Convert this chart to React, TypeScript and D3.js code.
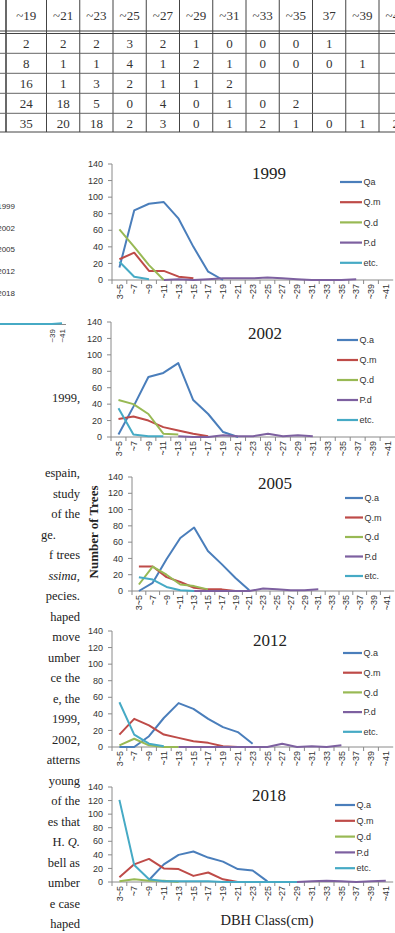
import React from "react";
import * as d3 from "d3";

// ---------- data ----------
const categories = ["3~5","~7","~9","~11","~13","~15","~17","~19","~21","~23","~25","~27","~29","~31","~33","~35","~37","~39","~41"];
const yTickValues = [0, 20, 40, 60, 80, 100, 120, 140];
const namesA = ["Qa", "Q.m", "Q.d", "P.d", "etc."];
const namesB = ["Q.a", "Q.m", "Q.d", "P.d", "etc."];
const seriesColors = ["#4A7EBB", "#BE4B48", "#98B954", "#7D60A0", "#46AAC5"];

const N = null;
const qa1999 = [15, 84, 92, 94, 74, 40, 10, 0];
const qm1999 = [25, 33, 11, 11, 4, 2];
const qd1999 = [61, 40, 18, 0];
const pd1999 = [N, N, N, 0, 1, 0, 1, 2, 2, 2, 3, 2, 1, 0, 0, 0, 1];
const etc1999 = [22, 4, 1];

const qa2002 = [3, 37, 73, 78, 90, 45, 28, 6, 0];
const qm2002 = [22, 25, 20, 12, 8, 4, 1];
const qd2002 = [45, 40, 28, 4, 3];
const pd2002 = [N, N, N, N, 1, 0, 0, 2, 1, 1, 4, 1, 2, 1];
const etc2002 = [35, 3, 1, 1];

const qa2005 = [0, 10, 39, 65, 78, 49, 33, 16, 1];
const qm2005 = [30, 30, 17, 11, 4, 2, 2, 0];
const qd2005 = [8, 30, 20, 8, 6, 2];
const pd2005 = [N, N, N, N, 0, 0, 0, 0, 0, 3, 2, 1, 1, 2];
const etc2005 = [17, 14, 5, 1, 0];

const qa2012 = [0, 0, 13, 35, 53, 46, 34, 24, 18, 4];
const qm2012 = [15, 34, 26, 15, 11, 7, 5, 1, 0];
const qd2012 = [2, 10, 2, 0, 0];
const pd2012 = [N, N, N, N, 0, 0, 0, 0, 0, 0, 0, 4, 0, 1, 0, 2];
const etc2012 = [54, 15, 4, 1];

const qa2018 = [N, N, 3, 26, 40, 45, 36, 30, 19, 17, 1];
const qm2018 = [7, 26, 34, 20, 19, 9, 14, 4, 0, 0, 0, 0];
const qd2018 = [1, 4, 2, 2, 0];
const pd2018 = [N, N, N, N, N, N, N, N, N, N, N, N, 0, 1, 2, 1, 0, 1, 2];
const etc2018 = [121, 25, 4, 1, 1, 1, 1, 0, 0, 0, 0, 0, 0];

// table
const tableHeader = ["~19","~21","~23","~25","~27","~29","~31","~33","~35","37","~39","~41"];
const row1999 = ["2","2","2","3","2","1","0","0","0","1","",""];
const row2002 = ["8","1","1","4","1","2","1","0","0","0","1",""];
const row2005 = ["16","1","3","2","1","1","2","","","","",""];
const row2012 = ["24","18","5","0","4","0","1","0","2","","",""];
const row2018 = ["35","20","18","2","3","0","1","2","1","0","1","2"];

// partial legend / text on the left
const leftLegend = ["1999", "2002", "2005", "2012", "2018"];
const leftTicks = ["~39", "~41"];
const leftEtc = [0, 0, 0, 0, 0, 0, 0, 1];
const bodyLines = [
  { t: "espain," },
  { t: "study" },
  { t: "of the" },
  { t: "ge.", short: true },
  { t: "f trees" },
  { t: "ssima,", it: true },
  { t: "pecies." },
  { t: "haped" },
  { t: "move" },
  { t: "umber" },
  { t: "ce the" },
  { t: "e, the" },
  { t: "1999," },
  { t: "2002," },
  { t: "atterns" },
  { t: "young" },
  { t: "of the" },
  { t: "es that" },
  { t: "H. Q.", hq: true },
  { t: "bell as" },
  { t: "umber" },
  { t: "e case" },
  { t: "haped" },
];

// ---------- layout ----------
const panels = [
  { year: "1999", series: [qa1999, qm1999, qd1999, pd1999, etc1999], names: namesA, axisX: 112, step: 14.8, y0: 280, yTop: 164, titleX: 269, titleY: 179, legX: 340, legLen: 22, legY: 182, legStep: 20.2 },
  { year: "2002", series: [qa2002, qm2002, qd2002, pd2002, etc2002], names: namesB, axisX: 111, step: 14.95, y0: 437, yTop: 322, titleX: 265, titleY: 339, legX: 337, legLen: 21, legY: 340, legStep: 20 },
  { year: "2005", series: [qa2005, qm2005, qd2005, pd2005, etc2005], names: namesB, axisX: 132, step: 13.8, y0: 591, yTop: 477, titleX: 275, titleY: 489, legX: 345, legLen: 18, legY: 498, legStep: 19.5 },
  { year: "2012", series: [qa2012, qm2012, qd2012, pd2012, etc2012], names: namesB, axisX: 112, step: 14.8, y0: 747, yTop: 631, titleX: 270, titleY: 646, legX: 343, legLen: 19, legY: 653, legStep: 19.7 },
  { year: "2018", series: [qa2018, qm2018, qd2018, pd2018, etc2018], names: namesB, axisX: 112, step: 14.8, y0: 882, yTop: 787, titleX: 269, titleY: 801, legX: 335, legLen: 20, legY: 805, legStep: 15.8 },
];

const SANS = "'Liberation Sans', Arial, sans-serif";
const SERIF = "'Liberation Serif', 'Times New Roman', serif";
const AXIS = "#8a8a8a";
const TEXT_RIGHT = 80;

function Panel({ p }: { p: any }) {
  const y = d3.scaleLinear().domain([0, 140]).range([p.y0, p.yTop]);
  const x = d3.scaleBand().domain(categories).range([p.axisX, p.axisX + p.step * categories.length]);
  const cx = (c: string) => (x(c) as number) + x.bandwidth() / 2;
  const line = d3
    .line<number | null>()
    .defined((d) => d != null)
    .x((_, i) => cx(categories[i]))
    .y((d) => y(d as number));
  const right = p.axisX + p.step * categories.length;
  return (
    <g>
      <line x1={p.axisX} x2={p.axisX} y1={p.yTop} y2={p.y0} stroke={AXIS} strokeWidth={1} />
      {yTickValues.map((t) => (
        <g key={t}>
          <line x1={p.axisX - 4} x2={p.axisX} y1={y(t)} y2={y(t)} stroke={AXIS} />
          <text x={p.axisX - 9} y={y(t)} dy="0.35em" textAnchor="end" fontFamily={SANS} fontSize={9} fill="#333">
            {t}
          </text>
        </g>
      ))}
      <line x1={p.axisX} x2={right} y1={p.y0} y2={p.y0} stroke={AXIS} />
      {categories.map((c) => (
        <g key={c}>
          <line x1={x(c) as number} x2={x(c) as number} y1={p.y0} y2={p.y0 + 4} stroke={AXIS} />
          <text
            transform={`translate(${cx(c)},${p.y0 + 4}) rotate(-90)`}
            textAnchor="end"
            dy="0.35em"
            fontFamily={SANS}
            fontSize={9}
            fill="#333"
          >
            {c}
          </text>
        </g>
      ))}
      {p.series.map((s: (number | null)[], k: number) => (
        <path key={k} d={line(s) || ""} fill="none" stroke={seriesColors[k]} strokeWidth={2} strokeLinejoin="round" />
      ))}
      <text x={p.titleX} y={p.titleY} textAnchor="middle" fontFamily={SERIF} fontSize={17} fill="#222">
        {p.year}
      </text>
      {p.names.map((n: string, k: number) => (
        <g key={n}>
          <line x1={p.legX} x2={p.legX + p.legLen} y1={p.legY + k * p.legStep} y2={p.legY + k * p.legStep} stroke={seriesColors[k]} strokeWidth={2.2} />
          <text x={p.legX + p.legLen + 1.5} y={p.legY + k * p.legStep} dy="0.35em" fontFamily={SANS} fontSize={9} fill="#333">
            {n}
          </text>
        </g>
      ))}
    </g>
  );
}

export default function App() {
  const colB = d3.range(0, 13).map((i) => (i === 0 ? 6 : 46.5 + (i - 1) * 33.25));
  const colCenter = (i: number) => (colB[i] + colB[i + 1]) / 2;
  const tableRows = [row1999, row2002, row2005, row2012, row2018];
  const rowCenters = tableRows.map((_, i) => 43.3 + i * 20);

  const lx = d3.scaleLinear().domain([0, leftEtc.length - 1]).range([-8, 62]);
  const ly = d3.scaleLinear().domain([0, 140]).range([324, 210]);
  const leftLine = d3.line<number>().x((_, i) => lx(i)).y((d) => ly(d));

  return (
    <div>
      <style>{`body{margin:0;background:#fff}`}</style>
      <svg width={395} height={933} style={{ display: "block" }}>
        <rect width={395} height={933} fill="#fff" />
        {/* ---- table ---- */}
        <g>
          {colB.map((b, i) => (
            <line key={i} x1={b} x2={b} y1={0} y2={132} stroke="#444" strokeWidth={i === 0 ? 1.6 : 1} />
          ))}
          <line x1={0} x2={395} y1={31} y2={31} stroke="#444" />
          <line x1={0} x2={395} y1={33.5} y2={33.5} stroke="#444" />
          {rowCenters.slice(0, 4).map((c, i) => (
            <line key={i} x1={0} x2={395} y1={c + 10} y2={c + 10} stroke="#666" />
          ))}
          <line x1={0} x2={395} y1={132} y2={132} stroke="#444" />
          {tableHeader.map((h, i) => (
            <text key={i} x={colCenter(i)} y={15} dy="0.35em" textAnchor="middle" fontFamily={SERIF} fontSize={13} fill="#333">
              {h}
            </text>
          ))}
          {tableRows.map((r, ri) =>
            r.map((v, i) => (
              <text key={ri + "-" + i} x={colCenter(i)} y={rowCenters[ri]} dy="0.35em" textAnchor="middle" fontFamily={SERIF} fontSize={13} fill="#333">
                {v}
              </text>
            ))
          )}
        </g>

        {/* ---- partial left chart ---- */}
        <g>
          {leftLegend.map((t, i) => (
            <text key={t} x={15} y={206 + i * 21.7} dy="0.35em" textAnchor="end" fontFamily={SANS} fontSize={8} fill="#333">
              {t}
            </text>
          ))}
          <line x1={0} x2={66} y1={324.5} y2={324.5} stroke={AXIS} />
          <path d={leftLine(leftEtc) || ""} fill="none" stroke="#46AAC5" strokeWidth={2} />
          {leftTicks.map((t, i) => (
            <text key={t} transform={`translate(${lx(6 + i)},${329}) rotate(-90)`} textAnchor="end" dy="0.35em" fontFamily={SANS} fontSize={8} fill="#333">
              {t}
            </text>
          ))}
        </g>

        {/* ---- body text ---- */}
        <g fontFamily={SERIF} fontSize={12.5} fill="#222">
          <text x={TEXT_RIGHT} y={398} dy="0.35em" textAnchor="end">1999,</text>
          {bodyLines.map((l: any, i) => (
            <text key={i} x={l.short ? TEXT_RIGHT - 24 : TEXT_RIGHT} y={473 + i * 20.5} dy="0.35em" textAnchor="end" fontStyle={l.it ? "italic" : "normal"}>
              {l.hq ? (
                <>
                  <tspan>H. </tspan>
                  <tspan fontStyle="italic">Q.</tspan>
                </>
              ) : (
                l.t
              )}
            </text>
          ))}
        </g>

        {/* ---- charts ---- */}
        {panels.map((p) => (
          <Panel key={p.year} p={p} />
        ))}

        <text transform="translate(93,532) rotate(-90)" textAnchor="middle" dy="0.35em" fontFamily={SERIF} fontWeight="bold" fontSize={13} fill="#222">
          Number of Trees
        </text>
        <text x={267} y={920} dy="0.35em" textAnchor="middle" fontFamily={SERIF} fontSize={14.5} fill="#222">
          DBH Class(cm)
        </text>
      </svg>
    </div>
  );
}
